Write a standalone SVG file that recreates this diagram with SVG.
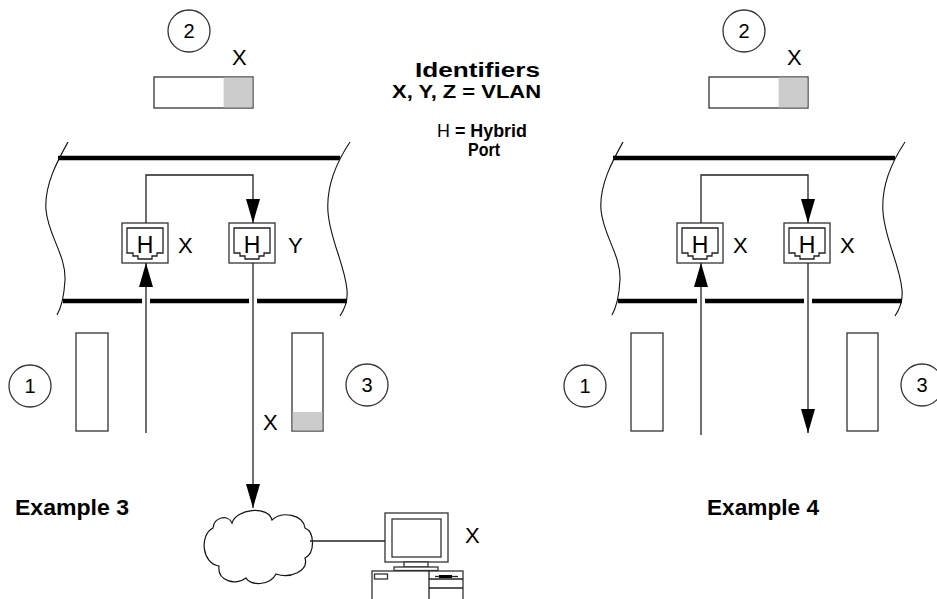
<svg xmlns="http://www.w3.org/2000/svg" width="937" height="599" viewBox="0 0 937 599">
<style>
.bg{fill:#ffffff}
.thin{fill:none;stroke:#222;stroke-width:1.3}
.box{fill:#fff;stroke:#333;stroke-width:1.3}
.shade{fill:#cccccc;stroke:none}
.thick{stroke:#000;stroke-width:4.5;fill:none}
.edge{fill:none;stroke:#111;stroke-width:1.1}
.lbl{font-family:"Liberation Sans",Arial,sans-serif;font-size:22px;fill:#000}
.num{font-family:"Liberation Sans",Arial,sans-serif;font-size:20px;fill:#000;text-anchor:middle}
.bold{font-family:"Liberation Sans",Arial,sans-serif;font-weight:bold;fill:#000}
.conn{fill:none;stroke:#222;stroke-width:1.3}
</style>
<defs>
<marker id="arr" markerUnits="userSpaceOnUse" markerWidth="24" markerHeight="14" refX="24" refY="7" orient="auto">
<path d="M0,0 L24,7 L0,14 Z" fill="#000"/>
</marker>
<g id="port">
<rect x="0" y="0" width="46" height="40" class="box"/>
<path d="M5,5 H41 V30 H35 V33 H30 V36 H16 V33 H11 V30 H5 Z" class="thin"/>
<text x="23" y="29.5" class="lbl" style="font-size:23px" text-anchor="middle">H</text>
</g>
</defs>
<rect width="937" height="599" class="bg"/>

<!-- Legend -->
<g id="legend">
<text x="415" y="77" class="bold" font-size="20" textLength="125" lengthAdjust="spacingAndGlyphs">Identifiers</text>
<text x="392" y="98" class="bold" font-size="19" textLength="149" lengthAdjust="spacingAndGlyphs">X, Y, Z = VLAN</text>
<text x="437" y="137" class="bold" font-size="19" textLength="90" lengthAdjust="spacingAndGlyphs"><tspan font-weight="normal">H</tspan> = Hybrid</text>
<text x="468" y="156" class="bold" font-size="19" textLength="32" lengthAdjust="spacingAndGlyphs">Port</text>
</g>

<!-- LEFT PANEL (Example 3) -->
<g id="l-circle2"><circle cx="189" cy="31" r="21" class="box"/><text x="189" y="38" class="num">2</text></g>
<g id="l-tag">
<rect x="154" y="77" width="99" height="31" class="box"/>
<rect x="223.6" y="77.6" width="28.8" height="29.8" class="shade"/>
<text x="232" y="65" class="lbl">X</text>
</g>
<g id="l-switch">
<line x1="58" y1="158" x2="340" y2="158" class="thick"/>
<line x1="63" y1="301" x2="142" y2="301" class="thick"/>
<line x1="150" y1="301" x2="249" y2="301" class="thick"/>
<line x1="257" y1="301" x2="347" y2="301" class="thick"/>
<path d="M68,142 C58,160 44,185 46,210 C48,235 66,255 65,280 C64,298 61,308 57,315" class="edge"/>
<path d="M350,142 C338,160 326,185 328,212 C330,240 345,265 347,290 C348,300 344,310 340,316" class="edge"/>
</g>
<g id="l-port1"><use href="#port" x="122" y="223"/><text x="178" y="253" class="lbl">X</text></g>
<g id="l-port2"><use href="#port" x="229" y="223"/><text x="288" y="253" class="lbl">Y</text></g>
<g id="l-circle1"><circle cx="30" cy="386" r="21" class="box"/><text x="30" y="393" class="num">1</text></g>
<g id="l-rect1"><rect x="76" y="333" width="32" height="98" class="box"/></g>
<g id="l-rect3">
<rect x="292" y="333" width="31" height="98" class="box"/>
<rect x="292.7" y="412" width="29.6" height="18.4" class="shade"/>
<text x="263" y="430" class="lbl">X</text>
</g>
<g id="l-circle3"><circle cx="367" cy="385" r="21" class="box"/><text x="367" y="392" class="num">3</text></g>
<g id="cloud">
<path d="M232,523 C236,509 268,505 272,520 C282,511 303,514 305,528 C315,532 315,553 305,558 C309,571 290,579 276,574 C270,586 250,586 246,578 C236,586 217,581 219,566 C202,564 199,535 213,528 C214,517 228,514 232,523 Z" fill="#fff" stroke="#111" stroke-width="1.2"/>
</g>
<g id="pc">
<rect x="385" y="513" width="63" height="49" class="box"/>
<rect x="392" y="519" width="49" height="38" class="box"/>
<rect x="404" y="562" width="24" height="5" class="box"/>
<rect x="394" y="567" width="44" height="3.5" class="box"/>
<rect x="372" y="571" width="91" height="32" class="box"/>
<rect x="374.5" y="574" width="13" height="5" class="box"/>
<line x1="429" y1="571" x2="429" y2="603" class="thin"/>
<line x1="429" y1="579" x2="463" y2="579" class="thin"/>
<line x1="429" y1="588" x2="463" y2="588" class="thin"/>
<line x1="435" y1="576.5" x2="458" y2="576.5" class="thin"/>
<rect x="439" y="575" width="13" height="3" fill="#000"/>
<text x="465" y="543" class="lbl">X</text>
</g>
<g id="l-title"><text x="15" y="515" class="bold" font-size="22" textLength="114" lengthAdjust="spacingAndGlyphs">Example 3</text></g>

<!-- RIGHT PANEL (Example 4) -->
<g id="r-circle2"><circle cx="744" cy="31" r="21" class="box"/><text x="744" y="38" class="num">2</text></g>
<g id="r-tag">
<rect x="709" y="77" width="99" height="31" class="box"/>
<rect x="778.6" y="77.6" width="28.8" height="29.8" class="shade"/>
<text x="787" y="65" class="lbl">X</text>
</g>
<g id="r-switch">
<line x1="613" y1="158" x2="895" y2="158" class="thick"/>
<line x1="618" y1="301" x2="697" y2="301" class="thick"/>
<line x1="705" y1="301" x2="804" y2="301" class="thick"/>
<line x1="812" y1="301" x2="902" y2="301" class="thick"/>
<path d="M623,142 C613,160 599,185 601,210 C603,235 621,255 620,280 C619,298 616,308 612,315" class="edge"/>
<path d="M905,142 C893,160 881,185 883,212 C885,240 900,265 902,290 C903,300 899,310 895,316" class="edge"/>
</g>
<g id="r-port1"><use href="#port" x="677" y="223"/><text x="733" y="253" class="lbl">X</text></g>
<g id="r-port2"><use href="#port" x="784" y="223"/><text x="840" y="253" class="lbl">X</text></g>
<g id="r-circle1"><circle cx="585" cy="386" r="21" class="box"/><text x="585" y="393" class="num">1</text></g>
<g id="r-rect1"><rect x="631" y="333" width="32" height="98" class="box"/></g>
<g id="r-rect3"><rect x="847" y="333" width="31" height="98" class="box"/></g>
<g id="r-circle3"><circle cx="922" cy="385" r="21" class="box"/><text x="922" y="392" class="num">3</text></g>
<g id="r-title"><text x="707" y="515" class="bold" font-size="22" textLength="112" lengthAdjust="spacingAndGlyphs">Example 4</text></g>

<!-- CONNECTORS -->
<g id="connectors">
<line x1="146" y1="433" x2="146" y2="263" class="conn" marker-end="url(#arr)"/>
<polyline points="146,223 146,175 253,175 253,223" class="conn" marker-end="url(#arr)"/>
<line x1="253" y1="263" x2="253" y2="508" class="conn" marker-end="url(#arr)"/>
<line x1="310" y1="541" x2="385" y2="541" class="conn"/>
<line x1="701" y1="435" x2="701" y2="263" class="conn" marker-end="url(#arr)"/>
<polyline points="701,223 701,175 808,175 808,223" class="conn" marker-end="url(#arr)"/>
<line x1="808" y1="263" x2="808" y2="433" class="conn" marker-end="url(#arr)"/>
</g>
</svg>
